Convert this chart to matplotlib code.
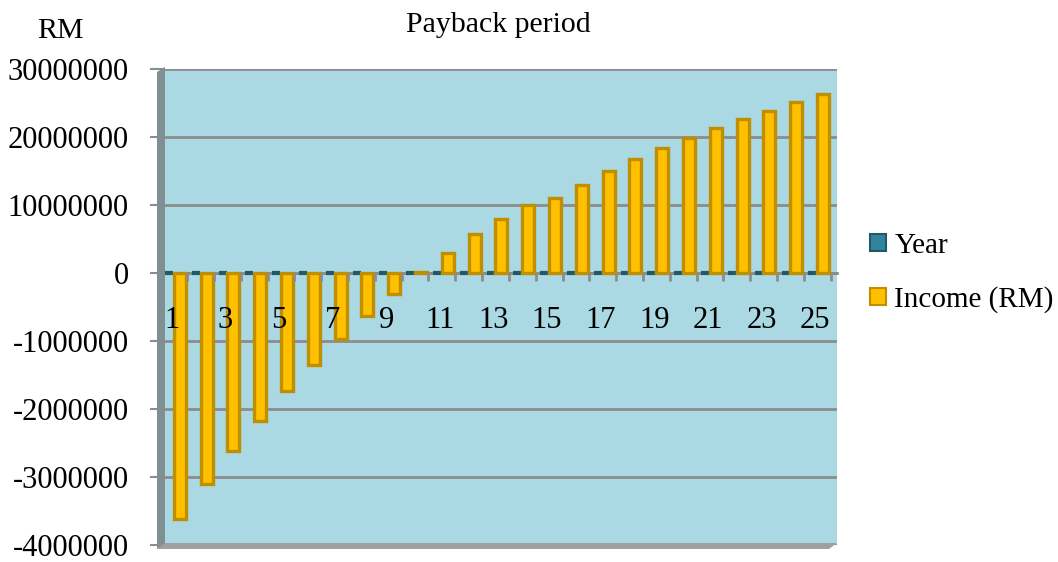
import numpy as np
import matplotlib.pyplot as plt
from matplotlib.patches import Patch, Polygon
from matplotlib.ticker import FixedLocator, FuncFormatter

plt.rcParams['font.family'] = ['Liberation Serif', 'DejaVu Serif']

years = list(range(1, 26))
income = [-3620000, -3100000, -2620000, -2170000, -1740000, -1350000, -970000, -630000, -310000, 100000,
          3000000, 5700000, 7900000, 10000000, 11100000, 13000000, 15000000, 16700000, 18400000, 19900000,
          21300000, 22600000, 23800000, 25100000, 26300000]
y_ticks = [-4000000, -3000000, -2000000, -1000000, 0, 10000000, 20000000, 30000000]
x_label_years = years[::2]


# the original axis uses 1e6 steps below zero and 1e7 steps above
def fwd(v):
    v = np.asarray(v, dtype=float)
    return np.where(v < 0, v / 1e6, v / 1e7)


def inv(t):
    t = np.asarray(t, dtype=float)
    return np.where(t < 0, t * 1e6, t * 1e7)


W, H = 1058, 562
fig = plt.figure(figsize=(W / 100, H / 100), dpi=100)
ax = fig.add_axes([165 / W, 1 - 545 / H, 672 / W, 476 / H])
ax.set_facecolor('#aad8e3')

grey = '#8c8c8c'
x = np.array(years, dtype=float)
ax.bar(x - 0.1, years, width=0.3, color='#31849b', edgecolor='#215968', linewidth=3, zorder=3, label='Year')
ax.bar(x + 0.3, income, width=0.45, color='#ffc000', edgecolor='#bf8f00', linewidth=2.4, zorder=3,
       label='Income (RM)')

ax.set_yscale('function', functions=(fwd, inv))
ax.set_ylim(-4000000, 30000000)
ax.set_xlim(0.75, 25.82)
ax.yaxis.set_major_locator(FixedLocator(y_ticks))
ax.yaxis.set_major_formatter(FuncFormatter(lambda v, p: f"{v:.0f}"))
ax.yaxis.grid(True, color=grey, linewidth=2)
ax.yaxis.set_zorder(1)

ax.xaxis.set_major_locator(FixedLocator(x_label_years))
ax.xaxis.set_major_formatter(FuncFormatter(lambda v, p: f"{v:.0f}"))
ax.xaxis.set_minor_locator(FixedLocator(np.arange(1.58, 25.7, 1.0)))
ax.tick_params(axis='x', which='major', length=0, pad=24, labelsize=22)
ax.tick_params(axis='x', which='minor', length=6, width=2, color=grey, direction='out')
ax.tick_params(axis='y', length=11, width=1.5, color=grey, pad=15, labelsize=22)
ax.xaxis.set_zorder(5)

for s in ['top', 'right', 'left']:
    ax.spines[s].set_visible(False)
ax.spines['bottom'].set_position(('data', 0))
ax.spines['bottom'].set_color(grey)
ax.spines['bottom'].set_linewidth(2)
ax.spines['bottom'].set_zorder(2)

# 3D-like wall and floor
def px(pts):
    return [(a / W, 1 - b / H) for a, b in pts]

fig.patches.append(Polygon(px([(157, 72), (165, 67), (165, 545), (157, 549)]), closed=True,
                           transform=fig.transFigure, facecolor='#7f8f94', edgecolor='none'))
fig.patches.append(Polygon(px([(157, 549), (165, 543), (837, 543), (829, 549)]), closed=True,
                           transform=fig.transFigure, facecolor='#a0a0a0', edgecolor='none'))

fig.text(498 / W, 1 - 32 / H, 'Payback period', ha='center', va='baseline', fontsize=21.5)
fig.text(60 / W, 1 - 38 / H, 'RM', ha='center', va='baseline', fontsize=21.5)

handles = [Patch(facecolor='#31849b', edgecolor='#215968', linewidth=1.5),
           Patch(facecolor='#ffc000', edgecolor='#bf8f00', linewidth=1.5)]
fig.legend(handles, ['Year', 'Income (RM)'], loc='center left', bbox_to_anchor=(858 / W, 1 - 273 / H),
           frameon=False, fontsize=21, handlelength=0.55, handleheight=0.55, handletextpad=0.3,
           labelspacing=0.95, borderaxespad=0)

fig.savefig('out.png', dpi=100)
